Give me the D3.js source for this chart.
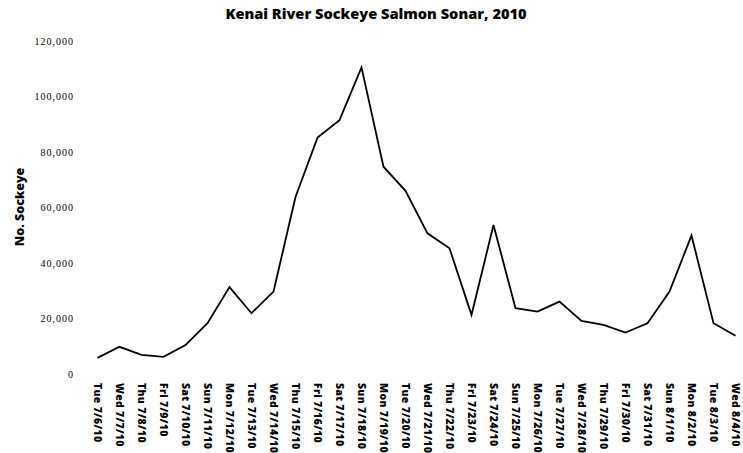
<!DOCTYPE html>
<html>
<head>
<meta charset="utf-8">
<script src="https://cdn.jsdelivr.net/npm/d3@7"></script>
<style>
  html, body { margin: 0; padding: 0; background: #fff; }
  svg { display: block; }
</style>
</head>
<body>
<svg id="chart" width="743" height="453"></svg>
<script>
// Daily sockeye passage counted by the Kenai River sonar
const dates = [
  "Tue 7/6/10", "Wed 7/7/10", "Thu 7/8/10", "Fri 7/9/10", "Sat 7/10/10",
  "Sun 7/11/10", "Mon 7/12/10", "Tue 7/13/10", "Wed 7/14/10", "Thu 7/15/10",
  "Fri 7/16/10", "Sat 7/17/10", "Sun 7/18/10", "Mon 7/19/10", "Tue 7/20/10",
  "Wed 7/21/10", "Thu 7/22/10", "Fri 7/23/10", "Sat 7/24/10", "Sun 7/25/10",
  "Mon 7/26/10", "Tue 7/27/10", "Wed 7/28/10", "Thu 7/29/10", "Fri 7/30/10",
  "Sat 7/31/10", "Sun 8/1/10", "Mon 8/2/10", "Tue 8/3/10", "Wed 8/4/10"
];
const sockeye = [
  5800, 9800, 6900, 6200, 10400,
  18300, 31300, 21900, 29700, 63800,
  85200, 91500, 110500, 74700, 66000,
  50700, 45300, 21300, 53700, 23700,
  22500, 26100, 19100, 17700, 14900,
  18300, 29700, 49900, 18300, 13800
];
const yTicks = [0, 20000, 40000, 60000, 80000, 100000, 120000];

const svg = d3.select("#chart");

const x = d3.scalePoint().domain(dates).range([97.5, 735.5]);
const y = d3.scaleLinear().domain([0, 120000]).range([374, 41]);

// Title
svg.append("text")
  .attr("x", 376).attr("y", 19)
  .attr("text-anchor", "middle")
  .attr("font-family", "'Open Sans', sans-serif")
  .attr("font-weight", 800)
  .attr("font-size", 14.6)
  .attr("fill", "#000")
  .text("Kenai River Sockeye Salmon Sonar, 2010");

// Y axis (labels only)
const yAxis = d3.axisLeft(y)
  .tickValues(yTicks)
  .tickFormat(d3.format(","))
  .tickSize(0)
  .tickPadding(0);
const gy = svg.append("g").attr("transform", "translate(74,0)").call(yAxis);
gy.select(".domain").remove();
gy.selectAll("text")
  .attr("font-family", "'Liberation Serif', serif")
  .attr("font-size", 10)
  .attr("letter-spacing", 1)
  .attr("fill", "#000");

// Y axis title
svg.append("text")
  .attr("transform", "translate(24,207) rotate(-90)")
  .attr("text-anchor", "middle")
  .attr("font-family", "'Open Sans', sans-serif")
  .attr("font-weight", 800)
  .attr("font-size", 12.5)
  .attr("fill", "#000")
  .text("No. Sockeye");

// X axis (rotated date labels)
const xAxis = d3.axisBottom(x).tickSize(0).tickPadding(0);
const gx = svg.append("g").attr("transform", "translate(0,383)").call(xAxis);
gx.select(".domain").remove();
gx.selectAll("text")
  .attr("transform", "rotate(90)")
  .attr("x", 0)
  .attr("y", 0)
  .attr("dy", "0.35em")
  .attr("text-anchor", "start")
  .attr("font-family", "'Open Sans', sans-serif")
  .attr("font-weight", 800)
  .attr("font-size", 10.5)
  .attr("letter-spacing", 0.3)
  .attr("fill", "#000");

// Series line
const line = d3.line()
  .x((d, i) => x(dates[i]))
  .y(d => y(d));

svg.append("path")
  .datum(sockeye)
  .attr("d", line)
  .attr("fill", "none")
  .attr("stroke", "#000")
  .attr("stroke-width", 1.8)
  .attr("stroke-linejoin", "miter");
</script>
</body>
</html>
